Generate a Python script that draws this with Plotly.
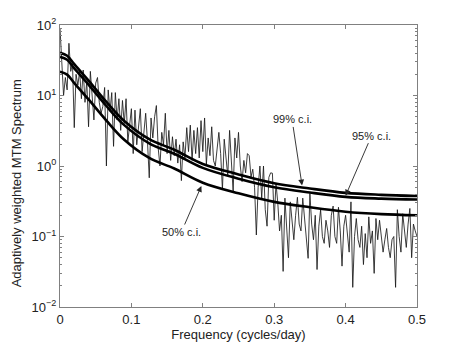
import math
import plotly.graph_objects as go

# adaptively weighted MTM spectrum, df = 0.0025 cycles/day starting at 0
DF = 0.0025
spectrum = [
    90, 30, 10, 18, 12, 55, 22, 28, 3.5,
    20, 14, 22, 9, 23, 8, 16, 3.6, 22, 11, 4.5, 15, 18, 8, 5.6, 7, 13, 1.0, 12, 6, 11,
    1.9, 11, 4.5, 9, 3.2, 8.5, 4,
    9.0, 2.2, 4.0, 6.5, 1.5, 6.2, 2.0, 3.5, 6.5, 1.6,
    3.2, 5.6, 2.2, 0.68, 4.8, 2.5, 5.0, 7.2, 1.8, 1.0,
    3.0, 2.0, 5.6, 1.5, 3.2, 1.2, 2.6, 1.4, 2.4, 1.1,
    2.0, 0.62, 2.2, 1.3, 3.5, 1.6, 3.8, 1.2, 3.2, 1.5,
    3.5, 1.3,
    4.4, 1.6, 4.8, 1.05, 2.5, 1.4, 3.6, 1.2, 1.0, 2.0,
    3.0, 1.5, 0.46, 2.4, 1.4, 0.72, 3.2, 1.2, 0.43, 2.5,
    1.3, 3.0, 1.0, 0.6, 1.2, 0.8, 1.5, 1.4, 0.7, 0.9,
    0.5, 0.105, 0.5, 1.0, 0.35, 1.0, 0.24, 0.14, 0.69, 0.8,
    0.79, 0.17, 0.57, 0.3, 0.12, 0.2, 0.032, 0.35, 0.15, 0.05,
    0.31, 0.16, 0.09, 0.2, 0.36, 0.15, 0.12, 0.35, 0.18, 0.1,
    0.049, 0.41, 0.15, 0.09, 0.2, 0.034, 0.14, 0.24, 0.1, 0.08,
    0.17, 0.12, 0.07, 0.2, 0.27, 0.1, 0.08, 0.26, 0.12, 0.038,
    0.14, 0.2,
    0.12, 0.06, 0.31, 0.019, 0.1, 0.18, 0.09, 0.07, 0.14, 0.04,
    0.11, 0.05, 0.19, 0.08, 0.12, 0.03, 0.18, 0.09, 0.17, 0.1,
    0.06, 0.09, 0.13, 0.07, 0.05, 0.09, 0.1, 0.019, 0.24, 0.1,
    0.06, 0.21, 0.11, 0.07, 0.15, 0.25, 0.05, 0.15, 0.12, 0.1,
]

# red-noise background confidence levels
ci_freq = [0, 0.01, 0.02, 0.04, 0.065, 0.09, 0.125, 0.16, 0.2, 0.25, 0.3, 0.35, 0.4, 0.45, 0.5]
ci50 = [21.8, 19.8, 15.0, 8.8, 4.4, 2.35, 1.3, 0.92, 0.58, 0.41, 0.31, 0.26, 0.225, 0.208, 0.2]
ci95 = [35.3, 32.1, 24.3, 14.3, 7.1, 3.8, 2.1, 1.49, 0.94, 0.66, 0.50, 0.42, 0.365, 0.345, 0.335]
ci99 = [40.3, 36.6, 27.8, 16.3, 8.1, 4.35, 2.4, 1.70, 1.07, 0.76, 0.57, 0.48, 0.416, 0.39, 0.375]

x_ticks = [0, 0.1, 0.2, 0.3, 0.4, 0.5]
y_ticks = [0.01, 0.1, 1, 10, 100]
y_labels = ["10<sup>\u22122</sup>", "10<sup>\u22121</sup>", "10<sup>0</sup>", "10<sup>1</sup>", "10<sup>2</sup>"]
y_minor = [m * 10 ** e for e in range(-2, 2) for m in range(2, 10)]

# label, arrow tip (freq, value), text offset in px
labels = [("99% c.i.", 0.339, 0.53, -10, -66),
          ("95% c.i.", 0.400, 0.38, 26, -60),
          ("50% c.i.", 0.198, 0.52, -20, 46)]

FONT = "Liberation Sans, Arial, sans-serif"
AX = "#808080"

fig = go.Figure()
fig.add_scatter(y=spectrum, x0=0, dx=DF, mode="lines", line=dict(color="#1a1a1a", width=0.85),
                showlegend=False)
for vals in (ci50, ci95, ci99):
    fig.add_scatter(x=ci_freq, y=vals, mode="lines", line=dict(color="black", width=2.6, shape="spline"),
                    showlegend=False)

for txt, fx, fy, ax, ay in labels:
    # annotation y on a log axis is given in log10 units
    fig.add_annotation(x=fx, y=math.log10(fy), text=txt, ax=ax, ay=ay, showarrow=True,
                       arrowhead=2, arrowsize=1.3, arrowwidth=0.9, arrowcolor="#222",
                       font=dict(size=11, color="#222", family=FONT))

# y title sits a bit below the axis centre in the original
fig.add_annotation(text="Adaptively weighted MTM Spectrum", textangle=-90, showarrow=False,
                   xref="paper", yref="paper", x=-0.122, y=0.44, xanchor="center", yanchor="middle",
                   font=dict(size=13, color="#222", family=FONT))

fig.update_xaxes(range=[0, 0.5], tickvals=x_ticks, ticktext=["0", "0.1", "0.2", "0.3", "0.4", "0.5"],
                 ticks="inside", ticklen=4, tickcolor=AX, showline=True, linecolor=AX, linewidth=1,
                 mirror="allticks", showgrid=False, zeroline=False, automargin=False,
                 title=dict(text="Frequency (cycles/day)", standoff=4, font=dict(size=13)))
fig.update_yaxes(type="log", range=[-2, 2], tickvals=y_ticks, ticktext=y_labels,
                 ticks="inside", ticklen=4, tickcolor=AX, showline=True, linecolor=AX, linewidth=1,
                 mirror="allticks", showgrid=False, zeroline=False, automargin=False,
                 minor=dict(tickvals=y_minor, ticks="inside", ticklen=2, tickcolor=AX, showgrid=False))
# page body adds an 8 px margin, so the figure is 8 px smaller and shifted up/left
fig.update_layout(width=452, height=338, margin=dict(l=52, r=43, t=17, b=39),
                  plot_bgcolor="white", paper_bgcolor="white",
                  font=dict(family=FONT, size=13, color="#222"))
fig.write_html("out.html")
